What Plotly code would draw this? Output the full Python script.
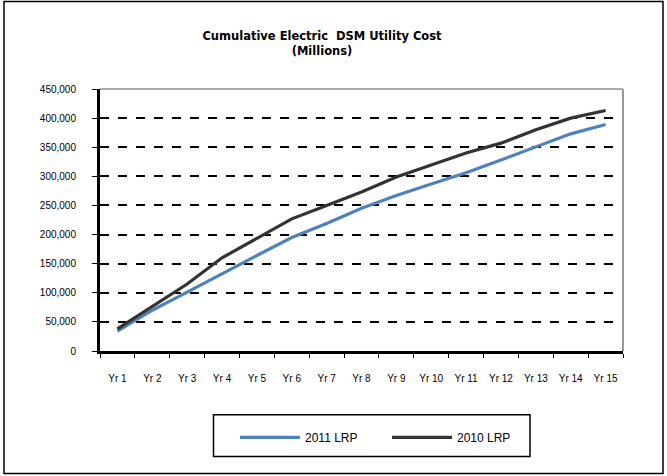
import plotly.graph_objects as go

years = [f"Yr {i}" for i in range(1, 16)]
lrp_2011 = [34000, 70000, 101000, 133000, 164000, 195000, 219000, 245000, 267000, 287000, 306000, 328000, 351000, 373000, 389000]
lrp_2010 = [38000, 77000, 115000, 160000, 194000, 227000, 250000, 273000, 299000, 320000, 340000, 357000, 380000, 400000, 413000]

series_names = ["2011 LRP", "2010 LRP"]
colors = ["#4F81BD", "#333333"]

font_family = "Liberation Sans, Arial, sans-serif"

fig = go.Figure()
for name, vals, col in zip(series_names, [lrp_2011, lrp_2010], colors):
    fig.add_trace(go.Scatter(x=years, y=vals, mode="lines", name=name,
                             line=dict(color=col, width=3.2)))

# pixel -> paper helpers (plot area: x 100..623, y 89..350.7)
def px(x):
    return (x - 100) / 523

def py(y):
    return (350.7 - y) / 261.7

fig.update_layout(
    width=667, height=476,
    margin=dict(l=100, r=44, t=89, b=125),
    paper_bgcolor="white", plot_bgcolor="white",
    font=dict(family=font_family, size=10, color="#000000"),
    title=dict(text="<b>Cumulative Electric  DSM Utility Cost<br>(Millions)</b>",
               x=322/667, xanchor="center", xref="container",
               y=1 - 40/476, yanchor="top", yref="container",
               font=dict(family="DejaVu Sans, sans-serif", size=11.5, color="#000")),
    showlegend=True,
    legend=dict(orientation="h", x=px(235), xanchor="left", y=py(437), yanchor="middle",
                borderwidth=0, bgcolor="rgba(0,0,0,0)",
                font=dict(family=font_family, size=12), itemwidth=60,
                entrywidth=77),
)

fig.update_xaxes(
    type="category", tickson="boundaries", ticks="outside", ticklen=4,
    tickcolor="#000", tickwidth=1,
    showline=True, linecolor="#000", linewidth=3, mirror=False,
    showgrid=False, tickfont=dict(size=10), ticklabelstandoff=16,
    range=[-0.5, 14.5],
)
fig.update_yaxes(
    range=[0, 450000], dtick=50000, tickformat=",d",
    ticks="outside", ticklen=5, tickcolor="#000", tickwidth=1,
    showline=True, linecolor="#000", linewidth=3,
    showgrid=True, gridcolor="#000", gridwidth=1.5, griddash="dash",
    zeroline=False, ticklabelstandoff=14, tickfont=dict(size=10),
)

# plot area right and top border (gray)
fig.add_shape(type="line", xref="paper", yref="paper", x0=1, x1=1, y0=0, y1=1,
              line=dict(color="#999999", width=2))
fig.add_shape(type="line", xref="paper", yref="paper", x0=0, x1=1, y0=1, y1=1,
              line=dict(color="#aaaaaa", width=2))
# legend frame
fig.add_shape(type="rect", xref="paper", yref="paper",
              x0=px(213.5), x1=px(530), y0=py(456), y1=py(414.5),
              line=dict(color="#000", width=1.5))
# outer chart frame
fig.add_shape(type="rect", xref="paper", yref="paper",
              x0=px(4), x1=px(663), y0=py(473), y1=py(1.5),
              line=dict(color="#000", width=1.5))

fig.write_html("out.html")
